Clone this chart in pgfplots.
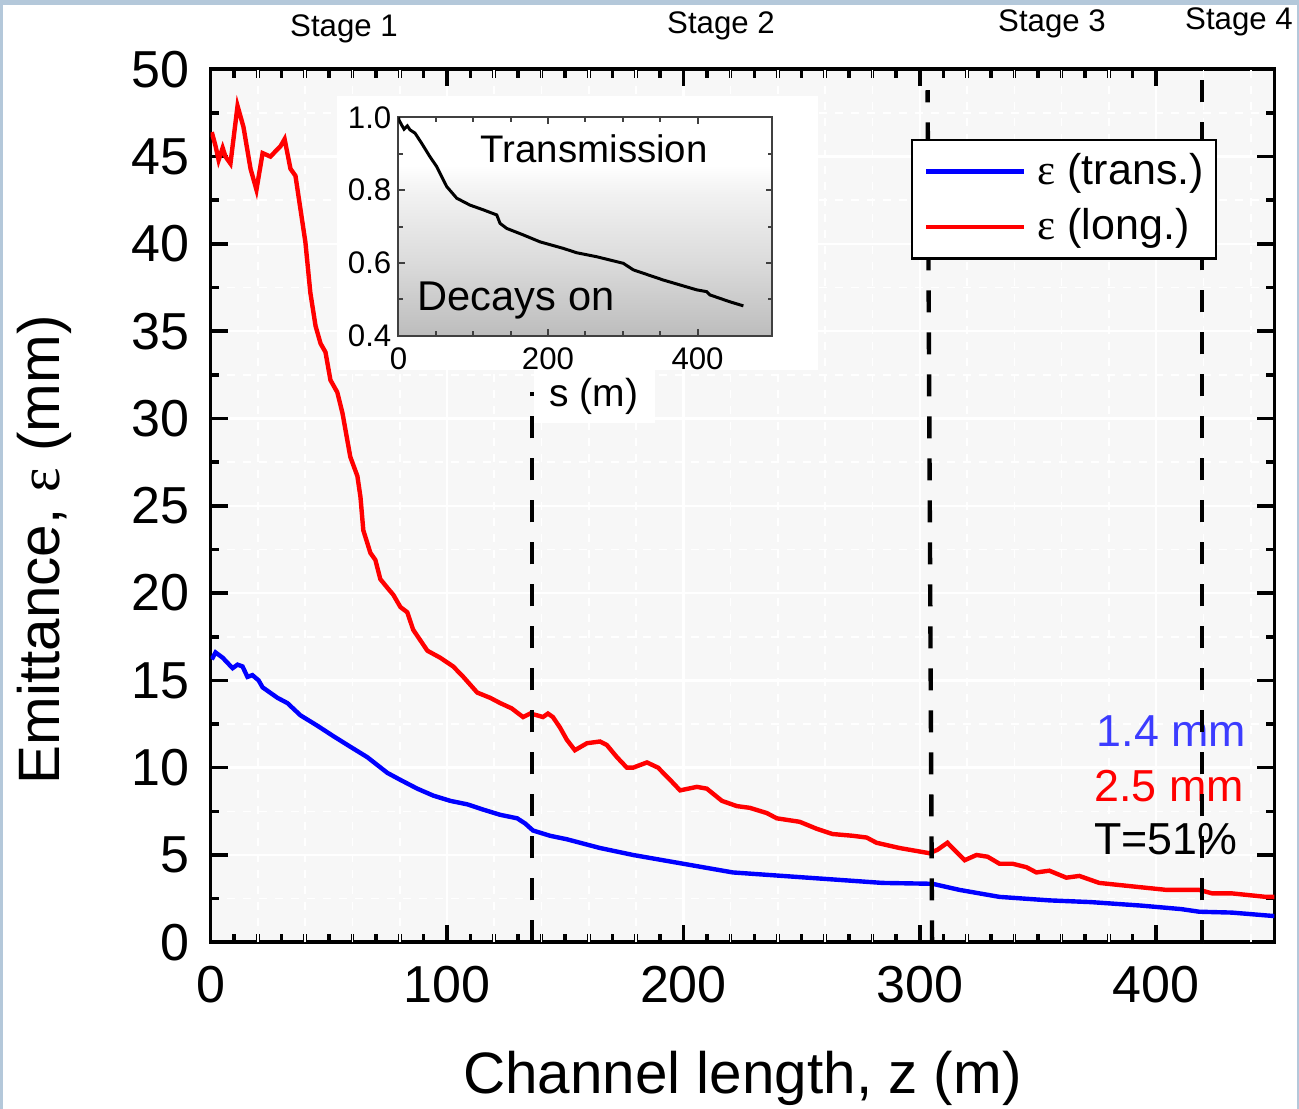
\documentclass[border=0pt]{standalone}
\usepackage{fontspec}
\setmainfont{Liberation Sans}
\newfontfamily\symf{Liberation Serif}
\usepackage{pgfplots}
\pgfplotsset{compat=1.18}
\definecolor{framecol}{RGB}{180,200,218}
\definecolor{annblue}{RGB}{60,60,255}
\definecolor{plotbg}{RGB}{247,247,247}
\pgfdeclareverticalshading{insetbg}{100bp}{color(0bp)=(black!26); color(25bp)=(black!26); color(42bp)=(black!14); color(58bp)=(black!5); color(64bp)=(white); color(100bp)=(white)}
\tikzset{px/.style={x=0.25pt,y=-0.25pt,shift={(-52.65pt,235.575pt)}}}

\pgfplotstableread{
z e
0.5 46.4
2.1 45.6
3.4 44.8
5.1 45.5
6.3 45.0
8.4 44.6
11.4 47.9
13.9 46.7
16.9 44.3
19.4 43.1
22.0 45.2
25.3 45.0
29.6 45.6
31.3 46.0
33.8 44.3
35.9 43.9
38.0 42.0
40.1 40.1
42.2 37.2
44.4 35.3
46.5 34.3
48.6 33.8
50.7 32.2
53.6 31.5
55.8 30.3
59.1 27.8
62.1 26.7
63.4 25.5
64.6 23.6
67.6 22.3
69.7 21.9
71.8 20.8
74.8 20.3
77.3 19.9
80.3 19.2
83.2 18.9
85.7 17.9
91.7 16.7
97.1 16.3
102.6 15.8
106.9 15.2
112.8 14.3
118.3 14.0
122.5 13.7
127.3 13.4
132.2 12.9
135.2 13.1
138.1 13.0
140.6 12.9
142.7 13.1
144.8 12.9
147.8 12.3
150.7 11.6
154.1 11.0
159.2 11.4
164.7 11.5
167.6 11.3
171.9 10.6
176.1 10.0
178.7 10.0
184.6 10.3
189.3 10.0
194.4 9.3
198.6 8.7
205.7 8.9
209.9 8.8
216.3 8.1
222.6 7.8
228.1 7.7
235.3 7.4
239.5 7.1
249.2 6.9
256.4 6.5
263.1 6.2
271.6 6.1
277.5 6.0
281.7 5.7
291.4 5.4
304.1 5.1
307.5 5.3
311.7 5.7
313.8 5.4
319.0 4.7
324.0 5.0
328.7 4.9
333.7 4.5
339.2 4.5
345.1 4.3
349.3 4.0
354.8 4.1
362.0 3.7
367.5 3.8
375.9 3.4
390.0 3.2
404.4 3.0
418.2 3.0
423.7 2.8
432.1 2.8
446.4 2.6
450.0 2.6
}\longdata

\pgfplotstableread{
z e
0.5 16.2
2.1 16.6
5.1 16.3
9.3 15.7
11.4 15.9
13.5 15.8
15.6 15.2
17.7 15.3
20.3 15.0
22.0 14.6
28.3 14.0
32.5 13.7
38.0 13.0
45.2 12.4
52.0 11.8
59.1 11.2
66.3 10.6
74.8 9.7
80.3 9.3
87.4 8.8
94.2 8.4
101.4 8.1
108.6 7.9
115.3 7.6
122.5 7.3
129.7 7.1
133.1 6.8
136.4 6.4
143.6 6.1
150.7 5.9
164.7 5.4
178.7 5.0
199.8 4.5
220.9 4.0
242.0 3.8
263.1 3.6
284.2 3.4
305.4 3.35
316.8 3.0
333.7 2.6
354.8 2.4
372.5 2.3
393.7 2.1
410.6 1.9
418.2 1.75
432.1 1.7
450.0 1.5
}\transdata

\pgfplotstableread{
s T
0 1.0
0.7 0.993
4.3 0.979
7.4 0.968
11.8 0.977
15.4 0.966
22.1 0.957
31.0 0.929
42.1 0.892
51.1 0.865
64.5 0.810
77.9 0.778
95.7 0.759
113.5 0.746
131.4 0.732
135.8 0.709
144.7 0.695
167.0 0.677
189.3 0.658
220.5 0.640
238.4 0.628
265.2 0.617
300.7 0.599
314.1 0.581
354.2 0.553
398.9 0.526
412.3 0.521
416.7 0.512
443.5 0.493
461.3 0.482
}\transmdata

\begin{document}
\begin{tikzpicture}
\begin{scope}[px]
  \fill[framecol] (0,0) rectangle (1299,1109);
  \fill[white] (3,5) rectangle (1297,1109);
\end{scope}

\begin{axis}[
  at={(0,0)}, anchor=south west, scale only axis,
  width=265.95pt, height=218.25pt,
  xmin=0, xmax=450, ymin=0, ymax=50,
  xtick={0,100,200,300,400}, ytick={0,5,...,50},
  minor x tick num=9, minor y tick num=1,
  axis background/.style={fill=plotbg},
  ymajorgrids, yminorgrids, xmajorgrids,
  major grid style={white, line width=0.6pt},
  minor grid style={white, dash pattern=on 2pt off 2pt, line width=0.4pt},
  extra x ticks={20,40,60,80,120,140,160,180,220,240,260,280,320,340,360,380,420,440},
  extra x tick labels={},
  extra x tick style={grid=major, major grid style={white, dash pattern=on 2pt off 2pt, line width=0.4pt}, major tick length=0pt},
  axis line style={line width=0.9pt},
  every tick/.style={black, line width=0.9pt},
  major tick length=4.25pt, minor tick length=2.1pt,
  tick align=inside,
  /pgf/number format/assume math mode=true,
  xticklabel style={font=\fontsize{13}{15}\selectfont, inner sep=0pt, yshift=-5.75pt},
  yticklabel style={font=\fontsize{13}{15}\selectfont, inner sep=0pt, xshift=-5pt},
  xlabel={Channel length, z (m)},
  xlabel style={font=\fontsize{14.6}{17}\selectfont, at={(axis description cs:0.5,0)}, anchor=base, yshift=-37.7pt},
  ylabel={Emittance, {\symf ε} (mm)},
  ylabel style={font=\fontsize{14.6}{17}\selectfont, at={(axis description cs:-0.1416,0.4494)}, anchor=base},
  legend style={at={(axis description cs:0.6584,0.9201)}, anchor=north west, draw=black, line width=0.6pt, fill=white,
    inner xsep=3pt, inner ysep=3.2pt, row sep=4.6pt, font=\fontsize{10.75}{12}\selectfont,
    nodes={inner sep=0pt},
    /tikz/every odd column/.append style={column sep=2.75pt}},
  legend cell align=left,
  legend image code/.code={\draw[#1] (0pt,0pt) -- (24.5pt,0pt);},
]
\addplot[blue, line width=1.1pt] table[x=z,y=e] {\transdata};
\addlegendentry{{\symf ε} (trans.)}
\addplot[red, line width=1.1pt] table[x=z,y=e] {\longdata};
\addlegendentry{{\symf ε} (long.)}
\node[anchor=base west, inner sep=0pt, text=annblue, font=\fontsize{11.2}{13}\selectfont] at (axis cs:374.5,11.19) {1.4 mm};
\node[anchor=base west, inner sep=0pt, text=red, font=\fontsize{11.2}{13}\selectfont] at (axis cs:373.5,8.04) {2.5 mm};
\node[anchor=base west, inner sep=0pt, text=black, font=\fontsize{11.2}{13}\selectfont] at (axis cs:373.5,5.01) {T=51\%};
\addplot[black, line width=1.1pt, dash pattern=on 5.5pt off 5pt, forget plot] coordinates {(136,0) (136,31.5)};
\addplot[black, line width=1.1pt, dash pattern=on 5.5pt off 5pt, forget plot] coordinates {(305.2,0) (303.3,48.8)};
\addplot[black, line width=1.1pt, dash pattern=on 5.5pt off 5pt, forget plot] coordinates {(419.5,0) (419.5,49.6)};
\end{axis}

\begin{scope}[px]
  \fill[white] (337,96) rectangle (818,370);
  \fill[white] (534,370) rectangle (655,423);
  \node[anchor=base, font=\fontsize{7.8}{9}\selectfont] at (344,37) {Stage 1};
  \node[anchor=base, font=\fontsize{7.8}{9}\selectfont] at (721,34) {Stage 2};
  \node[anchor=base, font=\fontsize{7.8}{9}\selectfont] at (1052,32) {Stage 3};
  \node[anchor=base, font=\fontsize{7.8}{9}\selectfont] at (1239,30) {Stage 4};
\end{scope}

\begin{axis}[
  at={(46.975pt,151.65pt)}, anchor=south west, scale only axis,
  width=93.45pt, height=54.55pt,
  xmin=0, xmax=500, ymin=0.4, ymax=1.0,
  xtick={0,200,400}, ytick={0.4,0.6,0.8,1.0},
  minor x tick num=3, minor y tick num=1,
  axis background/.style={shade, shading=insetbg},
  axis line style={line width=0.5pt, black!75},
  every tick/.style={black!75, line width=0.5pt},
  major tick length=1.6pt, minor tick length=1.2pt,
  tick align=inside,
  /pgf/number format/assume math mode=true,
  /pgf/number format/fixed,
  /pgf/number format/fixed zerofill,
  /pgf/number format/precision=1,
  xticklabel style={font=\fontsize{7.8}{9}\selectfont, inner sep=0pt, yshift=-2.75pt, /pgf/number format/precision=0},
  yticklabel style={font=\fontsize{7.8}{9}\selectfont, inner sep=0pt, xshift=-1.6pt},
  xlabel={s (m)},
  xlabel style={font=\fontsize{9.75}{11}\selectfont, at={(axis description cs:0.523,-0.3268)}, anchor=base},
]
\addplot[black, line width=0.75pt] table[x=s,y=T] {\transmdata};
\node[anchor=base west, inner sep=0pt, font=\fontsize{9.6}{11}\selectfont] at (rel axis cs:0.218,0.7915) {Transmission};
\node[anchor=base west, inner sep=0pt, font=\fontsize{10.4}{12}\selectfont] at (rel axis cs:0.0495,0.1132) {Decays on};
\end{axis}

\pgfresetboundingbox
\path[px] (0,0) rectangle (1299,1109);
\end{tikzpicture}
\end{document}
